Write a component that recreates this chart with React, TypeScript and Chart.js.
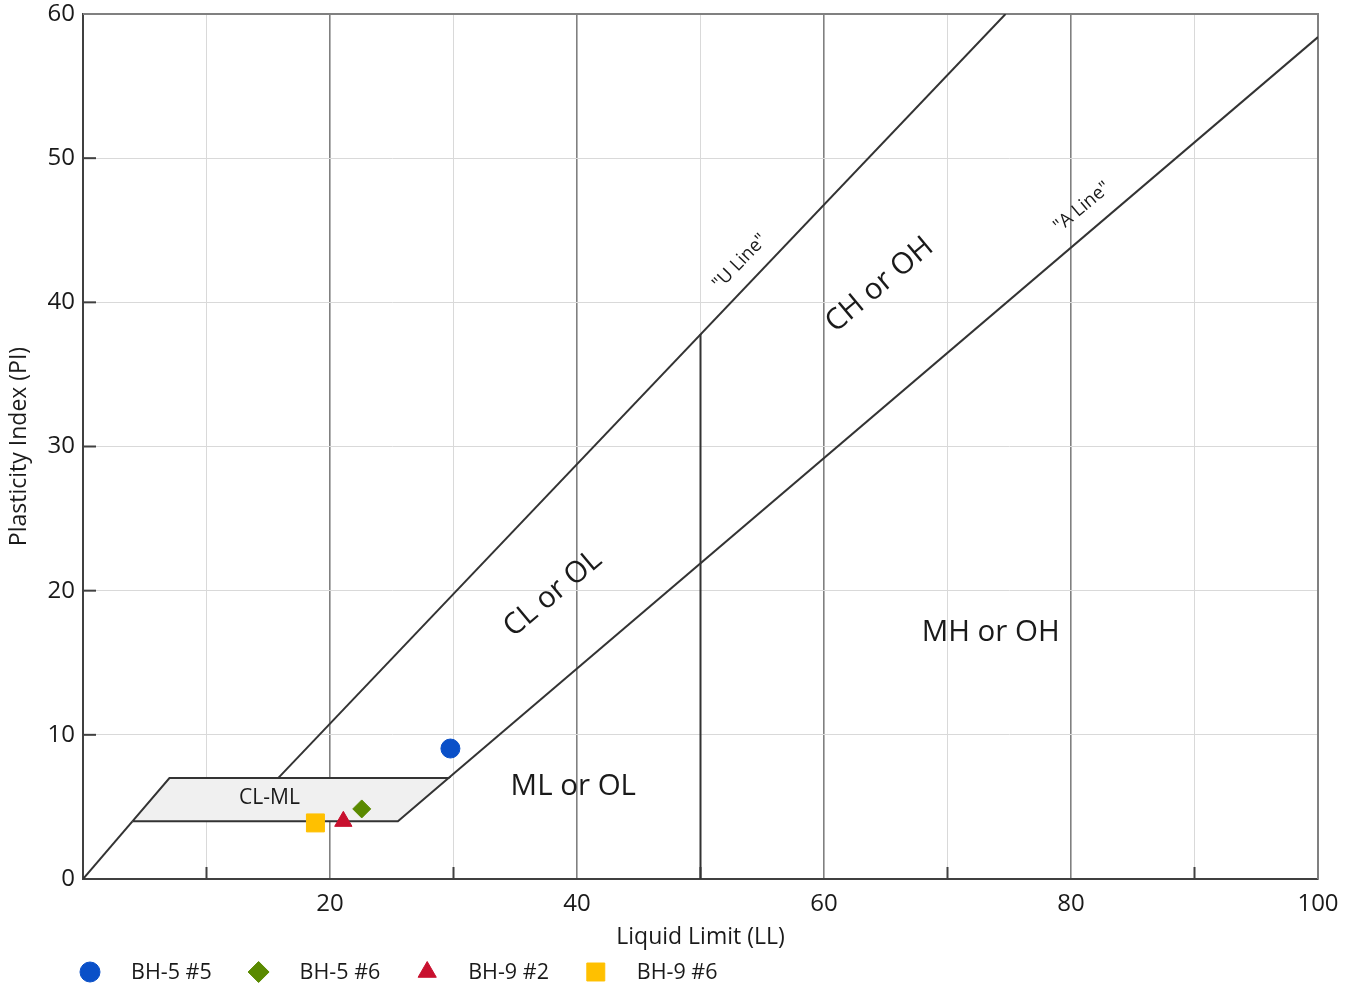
import React, { useEffect, useRef } from 'react';
import { Chart, registerables } from 'chart.js';
import { drawPoint } from 'chart.js/helpers';

Chart.register(...registerables);

const FONT = '"Open Sans", "DejaVu Sans", sans-serif';

// Axis ticks
const xTickValues = [0, 10, 20, 30, 40, 50, 60, 70, 80, 90, 100];
const xTickLabels = ['', '', '20', '', '40', '', '60', '', '80', '', '100'];
const yTickLabels = ['0', '10', '20', '30', '40', '50', '60'];

// Chart lines (LL, PI)
const uLineLL = [15.8, 74.7];
const uLinePI = [7, 60];
const aLineLL = [29.6, 100];
const aLinePI = [7, 58.4];
const ll50LL = [50, 50];
const ll50PI = [0, 37.8];
const baseLL = [0, 4];
const basePI = [0, 4];
const clmlLL = [4, 7, 29.6, 25.5, 4];
const clmlPI = [4, 7, 7, 4, 4];

// Samples
const sampleNames = ['BH-5 #5', 'BH-5 #6', 'BH-9 #2', 'BH-9 #6'];
const sampleLL = [29.75, 22.57, 21.08, 18.82];
const samplePI = [9.05, 4.86, 4.0, 3.89];
const sampleColors = ['#0a50c8', '#5a8a00', '#c8102e', '#ffc000'];
const sampleStyles = ['circle', 'rectRot', 'triangle', 'rect'];
const sampleRadius = [9.5, 9, 10, 12.7];
const legendRadius = [10, 10.5, 10.5, 12.7];

// Region labels
const regionText = ['CL-ML', 'ML or OL', 'MH or OH', 'CL or OL', 'CH or OH', '"U Line"', '"A Line"'];
const regionLL = [15.1, 39.7, 73.5, 38.05, 64.5, 53.2, 80.9];
const regionPI = [5.65, 6.4, 17.1, 19.8, 41.2, 42.8, 46.6];
const regionAngle = [0, 0, 0, -40, -40, -46, -40];
const regionSize = [21, 29.5, 29.5, 29.5, 29.5, 18.5, 18.5];

const pts = (xs: number[], ys: number[]) => xs.map((x, i) => ({ x, y: ys[i] }));

const lineDs = (label: string, xs: number[], ys: number[], extra: any = {}) => ({
  label,
  data: pts(xs, ys),
  showLine: true,
  borderColor: '#333333',
  borderWidth: 2,
  pointRadius: 0,
  pointHoverRadius: 0,
  fill: false,
  ...extra,
});

const decorPlugin = {
  id: 'decor',
  beforeDatasetsDraw(chart: any) {
    const { ctx, chartArea: a, scales } = chart;
    ctx.save();
    ctx.strokeStyle = '#404040';
    ctx.lineWidth = 2;
    xTickValues.forEach((v) => {
      if (v % 20 === 10) {
        const px = scales.x.getPixelForValue(v);
        ctx.beginPath();
        ctx.moveTo(px, a.bottom);
        ctx.lineTo(px, a.bottom - 12);
        ctx.stroke();
      }
    });
    yTickLabels.forEach((l) => {
      const v = Number(l);
      if (v === 0) return;
      const py = scales.y.getPixelForValue(v);
      ctx.beginPath();
      ctx.moveTo(a.left, py);
      ctx.lineTo(a.left + 13, py);
      ctx.stroke();
    });
    ctx.strokeStyle = '#808080';
    ctx.beginPath();
    ctx.moveTo(a.left, a.top);
    ctx.lineTo(a.right, a.top);
    ctx.lineTo(a.right, a.bottom);
    ctx.stroke();
    ctx.restore();
  },
  afterDatasetsDraw(chart: any) {
    const { ctx, scales } = chart;
    ctx.save();
    ctx.fillStyle = '#1a1a1a';
    ctx.textAlign = 'center';
    ctx.textBaseline = 'middle';
    regionText.forEach((t, i) => {
      const px = scales.x.getPixelForValue(regionLL[i]);
      const py = scales.y.getPixelForValue(regionPI[i]);
      ctx.save();
      ctx.translate(px, py);
      ctx.rotate((regionAngle[i] * Math.PI) / 180);
      ctx.font = `${regionSize[i]}px ${FONT}`;
      ctx.fillText(t, 0, 0);
      ctx.restore();
    });
    ctx.restore();
  },
  afterDraw(chart: any) {
    const { ctx } = chart;
    ctx.save();
    const y = 972;
    sampleNames.forEach((name, i) => {
      const cx = 90 + i * 168.6;
      ctx.fillStyle = sampleColors[i];
      ctx.strokeStyle = sampleColors[i];
      ctx.lineWidth = 1;
      drawPoint(ctx, { pointStyle: sampleStyles[i] as any, radius: legendRadius[i], rotation: 0, borderWidth: 1 } as any, cx, y);
      ctx.fillStyle = '#1a1a1a';
      ctx.font = `21.5px ${FONT}`;
      ctx.textAlign = 'left';
      ctx.textBaseline = 'middle';
      ctx.fillText(name, cx + 41, y + 1);
    });
    ctx.restore();
  },
};

export default function App() {
  const ref = useRef<HTMLCanvasElement>(null);
  useEffect(() => {
    document.body.style.margin = '0';
    const sampleDatasets = sampleNames.map((name, i) => ({
      label: name,
      data: [{ x: sampleLL[i], y: samplePI[i] }],
      pointStyle: sampleStyles[i],
      pointRadius: sampleRadius[i],
      pointHoverRadius: sampleRadius[i],
      backgroundColor: sampleColors[i],
      borderColor: sampleColors[i],
      borderWidth: 1,
      showLine: false,
    }));
    const chart = new Chart(ref.current!, {
      type: 'scatter',
      data: {
        datasets: [
          ...sampleDatasets,
          lineDs('U Line', uLineLL, uLinePI),
          lineDs('A Line', aLineLL, aLinePI),
          lineDs('LL 50', ll50LL, ll50PI),
          lineDs('Base', baseLL, basePI),
          lineDs('CL-ML', clmlLL, clmlPI, { fill: 'shape', backgroundColor: '#f0f0f0' }),
        ] as any,
      },
      options: {
        responsive: false,
        maintainAspectRatio: false,
        animation: false,
        events: [],
        layout: { padding: { left: 0, right: 38, top: 0, bottom: 0 } },
        plugins: {
          legend: { display: false },
          tooltip: { enabled: false },
        },
        scales: {
          x: {
            type: 'linear',
            min: 0,
            max: 100,
            afterBuildTicks: (s: any) => {
              s.ticks = xTickValues.map((v) => ({ value: v }));
            },
            afterFit: (s: any) => {
              s.height = 109;
              s.paddingLeft = 0;
              s.paddingRight = 0;
            },
            ticks: {
              callback: (_v: any, i: number) => xTickLabels[i],
              font: { family: FONT, size: 24 },
              color: '#1a1a1a',
              padding: 11,
              maxRotation: 0,
              autoSkip: false,
            },
            grid: {
              drawTicks: false,
              color: (c: any) => (c.tick && c.tick.value % 20 === 0 ? '#808080' : '#d9d9d9'),
              lineWidth: (c: any) => (c.tick && c.tick.value % 20 === 0 ? 1.6 : 1),
            },
            border: { color: '#404040', width: 2 },
            title: {
              display: true,
              text: 'Liquid Limit (LL)',
              font: { family: FONT, size: 23 },
              color: '#1a1a1a',
              padding: { top: 0, bottom: 37 },
            },
          },
          y: {
            type: 'linear',
            min: 0,
            max: 60,
            afterBuildTicks: (s: any) => {
              s.ticks = yTickLabels.map((l) => ({ value: Number(l) }));
            },
            afterFit: (s: any) => {
              s.width = 83;
              s.paddingTop = 14;
              s.paddingBottom = 0;
            },
            ticks: {
              callback: (_v: any, i: number) => yTickLabels[i],
              font: { family: FONT, size: 24 },
              color: '#1a1a1a',
              padding: 8,
            },
            grid: {
              drawTicks: false,
              color: '#d9d9d9',
              lineWidth: 1,
            },
            border: { color: '#404040', width: 2 },
            title: {
              display: true,
              text: 'Plasticity Index (PI)',
              font: { family: FONT, size: 23 },
              color: '#1a1a1a',
              padding: { top: 6, bottom: 0 },
            },
          },
        },
      },
      plugins: [decorPlugin],
    });
    return () => chart.destroy();
  }, []);
  return (
    <div style={{ width: 1356, height: 988 }}>
      <canvas ref={ref} width={1356} height={988} style={{ display: 'block' }} />
    </div>
  );
}
